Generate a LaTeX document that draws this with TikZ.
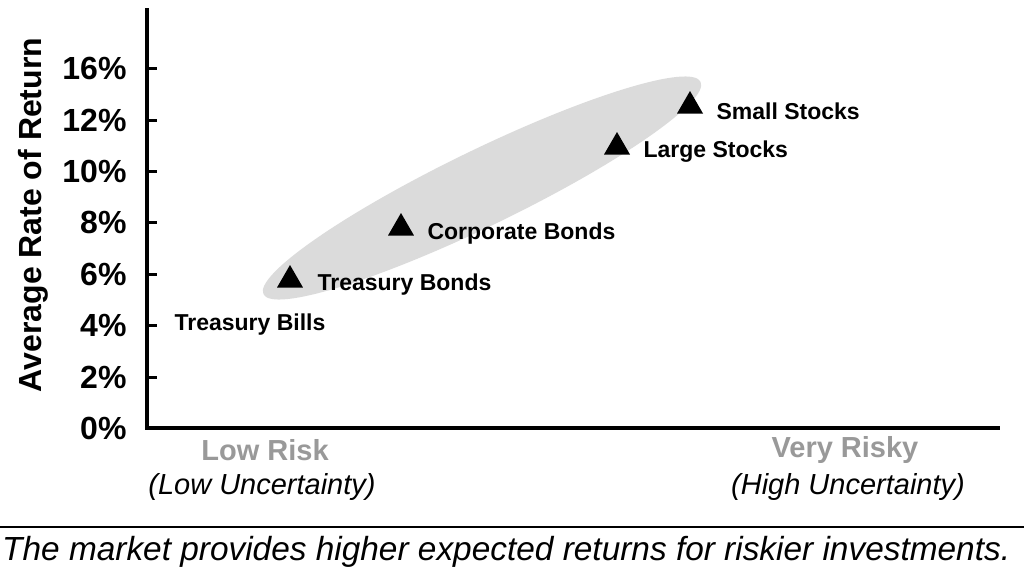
\documentclass[tikz,border=0pt]{standalone}
\usepackage{fontspec}
\setmainfont{Liberation Sans}
\usetikzlibrary{shapes.geometric}
\begin{document}
\begin{tikzpicture}[x=1pt,y=-1pt,
  tick/.style={font=\bfseries\fontsize{32}{32}\selectfont,anchor=east},
  lab/.style={font=\bfseries\fontsize{23}{23}\selectfont,anchor=west},
  tri/.style={regular polygon,regular polygon sides=3,fill=black,inner sep=0pt,minimum size=30},
  cat/.style={font=\bfseries\fontsize{29}{29}\selectfont,text=black!40},
  sub/.style={font=\itshape\fontsize{29}{29}\selectfont}]
\useasboundingbox (0,0) rectangle (1024,576);
\fill[black!14] (482,188) ellipse[x radius=243,y radius=38,rotate=25.9];
\draw[line width=4pt] (147,8) -- (147,428) -- (1000,428);
\foreach \y/\t in {428/0\%,377/2\%,325/4\%,274/6\%,222/8\%,171/10\%,120/12\%,68/16\%}{
  \draw[line width=3pt] (147,\y) -- (157,\y);
  \node[tick] (t\y) at (130,\y) {\t};
}
\node[rotate=90,font=\bfseries\fontsize{32}{32}\selectfont] (ylab) at (33,215) {Average Rate of Return};
\node[tri] (p1) at (290,280) {};
\node[tri] (p2) at (401,228) {};
\node[tri] (p3) at (617,147) {};
\node[tri] (p4) at (690,106) {};
\node[lab] (l0) at (171,325) {Treasury Bills};
\node[lab] (l1) at (314,285) {Treasury Bonds};
\node[lab] (l2) at (424,234) {Corporate Bonds};
\node[lab] (l3) at (640,152) {Large Stocks};
\node[lab] (l4) at (713,111) {Small Stocks};
\node[cat] (c1) at (265,450) {Low Risk};
\node[sub] (s1) at (262,487) {(Low Uncertainty)};
\node[cat] (c2) at (845,450) {Very Risky};
\node[sub] (s2) at (848,487) {(High Uncertainty)};
\draw[line width=1.5pt] (0,527) -- (1024,527);
\node[anchor=west,font=\itshape\fontsize{33.4}{34}\selectfont,inner sep=0pt] (cap) at (2,552) {The market provides higher expected returns for riskier investments.};
\end{tikzpicture}
\end{document}
